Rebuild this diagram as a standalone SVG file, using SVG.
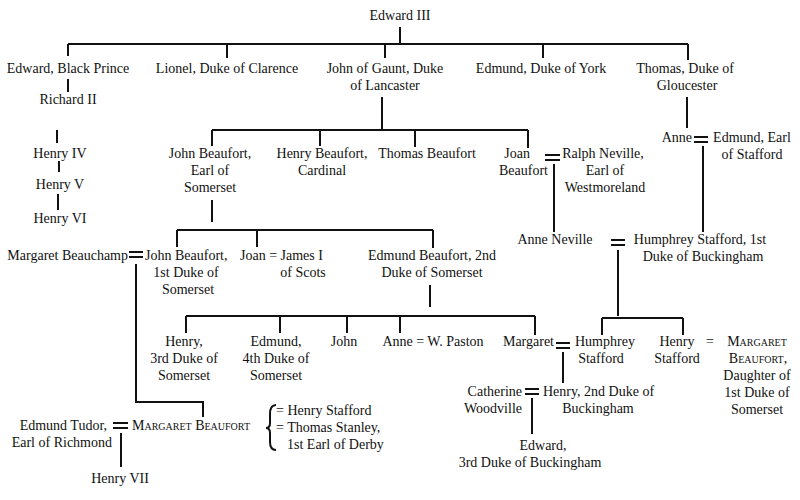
<svg xmlns="http://www.w3.org/2000/svg" width="800" height="500" viewBox="0 0 800 500">
<style>
text{font-family:"Liberation Serif","Times New Roman",serif;font-size:14px;fill:#111}
.c{text-anchor:middle}.e{text-anchor:end}.sc{font-variant:small-caps}
.l line,.l path{stroke:#111;stroke-width:2;fill:none}
</style>
<rect width="800" height="500" fill="#fff"/>
<g class="l" id="connectors">
<path d="M400 27V44M68 44H688M68 44V56M227 44V58M385 44V58M543 44V58M688 44V60"/>
<path d="M68 79V92M57 130V143M59 161V172M58 194V210"/>
<path d="M382 97V130M212 130H528M212 130V146M320 130V146M415 130V147M528 130V148"/>
<path d="M687 97V128M703 146V232M554 164V232"/>
<path d="M212 200V222M177 230H433M177 230V247M257 230V247M433 230V248"/>
<path d="M136 264V402H203V417"/>
<path d="M430 285V307M186 316H535M186 316V333M280 316V333M347 316V333M400 316V333M535 316V335"/>
<path d="M618 250V316M602 318H683M602 318V335M683 318V335"/>
<path d="M563 352V383M532 398V434M121 433V467"/>
<path d="M276 405Q270 405 270 414V423Q270 428 266 428Q270 428 270 433V442Q270 450 276 450" stroke-width="1.5"/>
<path d="M545 155H560M545 160H560M694 137H708M694 142H708M129 252H143M129 257H143M611 240H625M611 245H625M556 343H570M556 348H570M525 389H539M525 394H539M113 423H128M113 428H128" stroke-width="1.5"/>
</g>
<g id="edward3"><text x="400" y="20" class="c">Edward III</text></g>
<g id="blackprince"><text x="68" y="73" class="c">Edward, Black Prince</text></g>
<g id="lionel"><text x="227" y="73" class="c">Lionel, Duke of Clarence</text></g>
<g id="gaunt"><text x="385" y="73" class="c">John of Gaunt, Duke</text><text x="385" y="90" class="c">of Lancaster</text></g>
<g id="edmundyork"><text x="541" y="73" class="c">Edmund, Duke of York</text></g>
<g id="thomasglouc"><text x="685" y="73" class="c">Thomas, Duke of</text><text x="687" y="90" class="c">Gloucester</text></g>
<g id="richard2"><text x="68" y="104" class="c">Richard II</text></g>
<g id="henry4"><text x="60" y="158" class="c">Henry IV</text></g>
<g id="henry5"><text x="60" y="189" class="c">Henry V</text></g>
<g id="henry6"><text x="60" y="223" class="c">Henry VI</text></g>
<g id="jbearl"><text x="210" y="158" class="c">John Beaufort,</text><text x="210" y="175" class="c">Earl of</text><text x="210" y="192" class="c">Somerset</text></g>
<g id="hbcard"><text x="322" y="158" class="c">Henry Beaufort,</text><text x="322" y="175" class="c">Cardinal</text></g>
<g id="tb"><text x="427" y="158" class="c">Thomas Beaufort</text></g>
<g id="joanb"><text x="530" y="158" class="e">Joan</text><text x="548" y="175" class="e">Beaufort</text></g>
<g id="ralph"><text x="603" y="158" class="c">Ralph Neville,</text><text x="605" y="175" class="c">Earl of</text><text x="605" y="192" class="c">Westmoreland</text></g>
<g id="anneglouc"><text x="692" y="142" class="e">Anne</text></g>
<g id="edmundstafford"><text x="752" y="142" class="c">Edmund, Earl</text><text x="752" y="159" class="c">of Stafford</text></g>
<g id="annen"><text x="555" y="244" class="c">Anne Neville</text></g>
<g id="humph1"><text x="700" y="244" class="c">Humphrey Stafford, 1st</text><text x="703" y="261" class="c">Duke of Buckingham</text></g>
<g id="mbeauchamp"><text x="128" y="260" class="e">Margaret Beauchamp</text></g>
<g id="jb1duke"><text x="145" y="260">John Beaufort,</text><text x="186" y="277" class="c">1st Duke of</text><text x="188" y="294" class="c">Somerset</text></g>
<g id="joanjames"><text x="240" y="260">Joan = James I</text><text x="303" y="277" class="c">of Scots</text></g>
<g id="eb2"><text x="432" y="260" class="c">Edmund Beaufort, 2nd</text><text x="432" y="277" class="c">Duke of Somerset</text></g>
<g id="henry3"><text x="184" y="346" class="c">Henry,</text><text x="184" y="363" class="c">3rd Duke of</text><text x="184" y="380" class="c">Somerset</text></g>
<g id="edmund4"><text x="276" y="346" class="c">Edmund,</text><text x="276" y="363" class="c">4th Duke of</text><text x="276" y="380" class="c">Somerset</text></g>
<g id="john"><text x="344" y="346" class="c">John</text></g>
<g id="annepaston"><text x="433" y="346" class="c">Anne = W. Paston</text></g>
<g id="margaret"><text x="554" y="346" class="e">Margaret</text></g>
<g id="humphst"><text x="575" y="346">Humphrey</text><text x="601" y="363" class="c">Stafford</text></g>
<g id="henryst"><text x="677" y="346" class="c">Henry</text><text x="677" y="363" class="c">Stafford</text><text x="710" y="346" class="c">=</text></g>
<g id="mbdaughter"><text x="757" y="346" class="c sc">Margaret</text><text x="758" y="363" class="c sc">Beaufort,</text><text x="757" y="380" class="c">Daughter of</text><text x="757" y="397" class="c">1st Duke of</text><text x="757" y="414" class="c">Somerset</text></g>
<g id="catherine"><text x="522" y="396" class="e">Catherine</text><text x="522" y="413" class="e">Woodville</text></g>
<g id="henry2buck"><text x="543" y="396">Henry, 2nd Duke of</text><text x="598" y="413" class="c">Buckingham</text></g>
<g id="edward3buck"><text x="543" y="450" class="c">Edward,</text><text x="530" y="467" class="c">3rd Duke of Buckingham</text></g>
<g id="tudor"><text x="107" y="430" class="e">Edmund Tudor,</text><text x="112" y="447" class="e">Earl of Richmond</text></g>
<g id="mbeaufort"><text x="132" y="430" class="sc">Margaret Beaufort</text></g>
<g id="husbands"><text x="276" y="415">= Henry Stafford</text><text x="276" y="432">= Thomas Stanley,</text><text x="287" y="449">1st Earl of Derby</text></g>
<g id="henry7"><text x="120" y="483" class="c">Henry VII</text></g>
</svg>
